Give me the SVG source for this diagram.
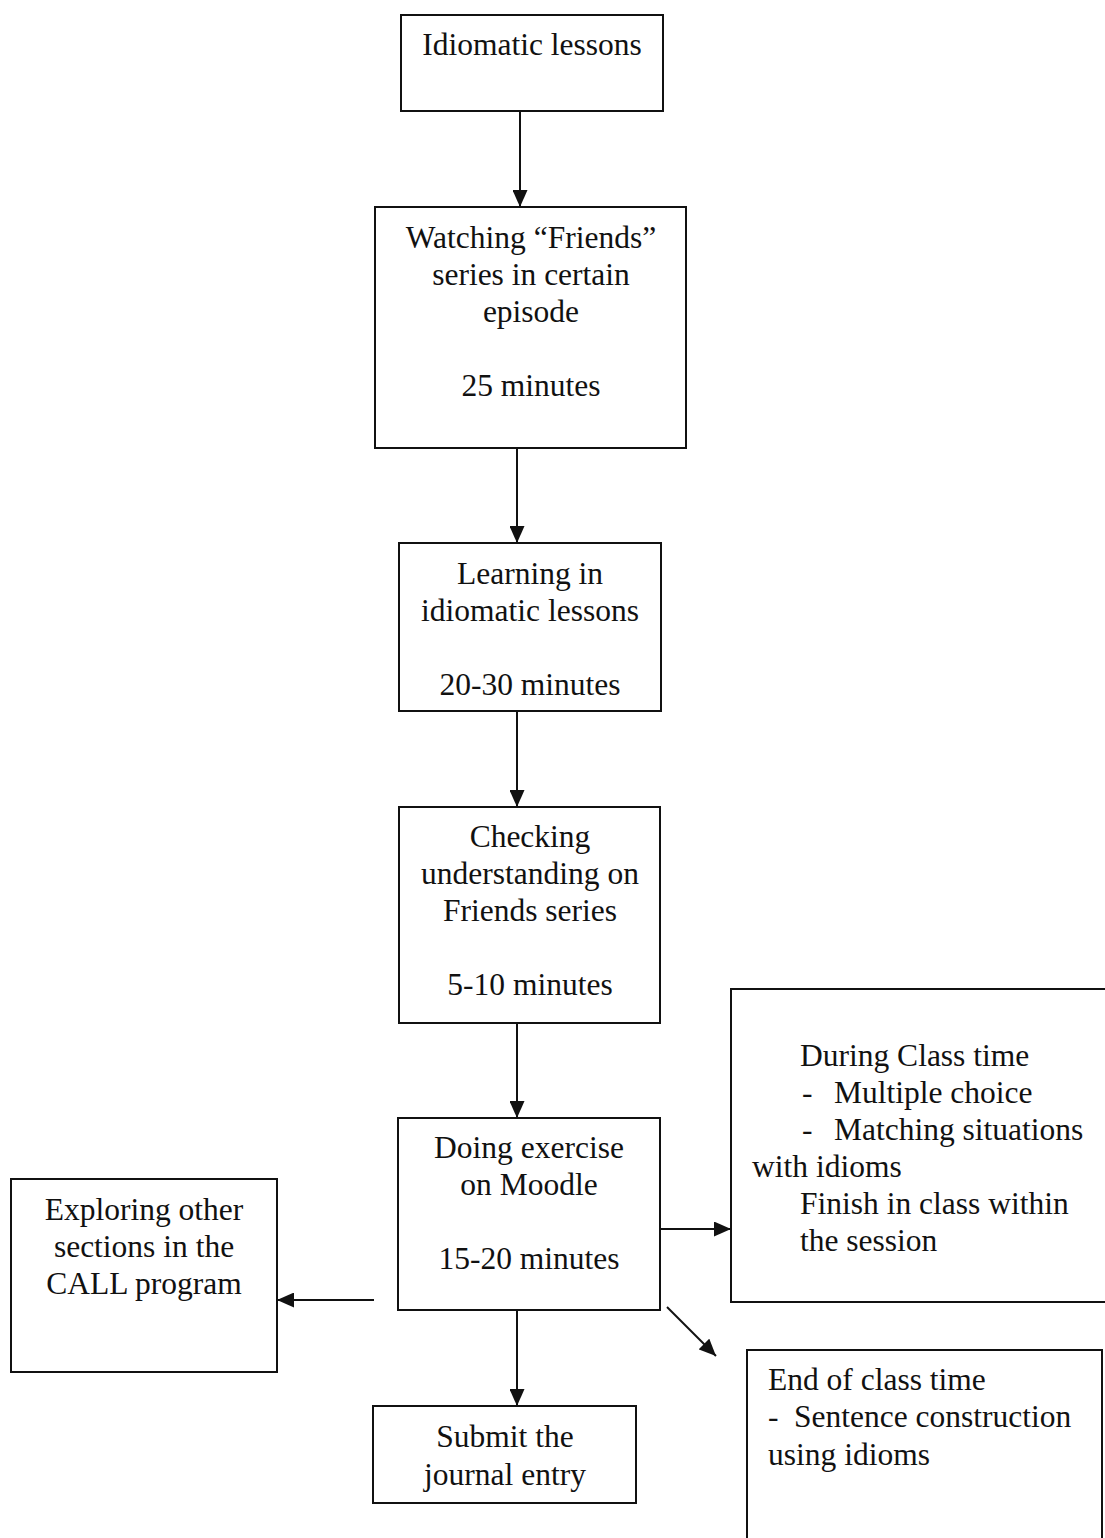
<svg xmlns="http://www.w3.org/2000/svg" width="1105" height="1538" viewBox="0 0 1105 1538">
<style>
rect{fill:none;stroke:#111;stroke-width:2}
text{font-family:"Liberation Serif","Times New Roman",serif;font-size:31.5px;fill:#111}
.c{text-anchor:middle}
.ln{stroke:#111;stroke-width:2;fill:none}
</style>
<defs>
<marker id="ah" viewBox="0 0 17 15" refX="17" refY="7.5" markerWidth="17" markerHeight="15" markerUnits="userSpaceOnUse" orient="auto">
<path d="M0,0 L17,7.5 L0,15 Z" fill="#111"/>
</marker>
</defs>
<rect width="1105" height="1538" style="fill:#fff;stroke:none"/>
<g id="n1"><rect x="401" y="15" width="262" height="96"/><text class="c" x="532" y="55">Idiomatic lessons</text></g>
<g id="n2"><rect x="375" y="207" width="311" height="241"/>
<text class="c" x="531" y="248">Watching “Friends”</text>
<text class="c" x="531" y="285">series in certain</text>
<text class="c" x="531" y="322">episode</text>
<text class="c" x="531" y="396">25 minutes</text></g>
<g id="n3"><rect x="399" y="543" width="262" height="168"/>
<text class="c" x="530" y="584">Learning in</text>
<text class="c" x="530" y="621">idiomatic lessons</text>
<text class="c" x="530" y="695">20-30 minutes</text></g>
<g id="n4"><rect x="399" y="807" width="261" height="216"/>
<text class="c" x="530" y="847">Checking</text>
<text class="c" x="530" y="884">understanding on</text>
<text class="c" x="530" y="921">Friends series</text>
<text class="c" x="530" y="995">5-10 minutes</text></g>
<g id="n5"><rect x="398" y="1118" width="262" height="192"/>
<text class="c" x="529" y="1158">Doing exercise</text>
<text class="c" x="529" y="1195">on Moodle</text>
<text class="c" x="529" y="1269">15-20 minutes</text></g>
<g id="n6"><rect x="731" y="989" width="380" height="313"/>
<text x="800" y="1066">During Class time</text>
<text x="802" y="1103">-</text><text x="834" y="1103">Multiple choice</text>
<text x="802" y="1140">-</text><text x="834" y="1140">Matching situations</text>
<text x="752" y="1177">with idioms</text>
<text x="800" y="1214">Finish in class within</text>
<text x="800" y="1251">the session</text></g>
<g id="n7"><rect x="747" y="1350" width="355" height="200"/>
<text x="768" y="1390">End of class time</text>
<text x="768" y="1427">-</text><text x="794" y="1427">Sentence construction</text>
<text x="768" y="1465">using idioms</text></g>
<g id="n8"><rect x="11" y="1179" width="266" height="193"/>
<text class="c" x="144" y="1220">Exploring other</text>
<text class="c" x="144" y="1257">sections in the</text>
<text class="c" x="144" y="1294">CALL program</text></g>
<g id="n9"><rect x="373" y="1406" width="263" height="97"/>
<text class="c" x="505" y="1447">Submit the</text>
<text class="c" x="505" y="1485">journal entry</text></g>
<g id="connectors">
<line class="ln" x1="520" y1="111" x2="520" y2="207" marker-end="url(#ah)"/>
<line class="ln" x1="517" y1="448" x2="517" y2="543" marker-end="url(#ah)"/>
<line class="ln" x1="517" y1="711" x2="517" y2="807" marker-end="url(#ah)"/>
<line class="ln" x1="517" y1="1023" x2="517" y2="1118" marker-end="url(#ah)"/>
<line class="ln" x1="517" y1="1310" x2="517" y2="1406" marker-end="url(#ah)"/>
<line class="ln" x1="660" y1="1229" x2="731" y2="1229" marker-end="url(#ah)"/>
<line class="ln" x1="374" y1="1300" x2="277" y2="1300" marker-end="url(#ah)"/>
<line class="ln" x1="667" y1="1307" x2="716" y2="1356" marker-end="url(#ah)"/>
</g>
</svg>
